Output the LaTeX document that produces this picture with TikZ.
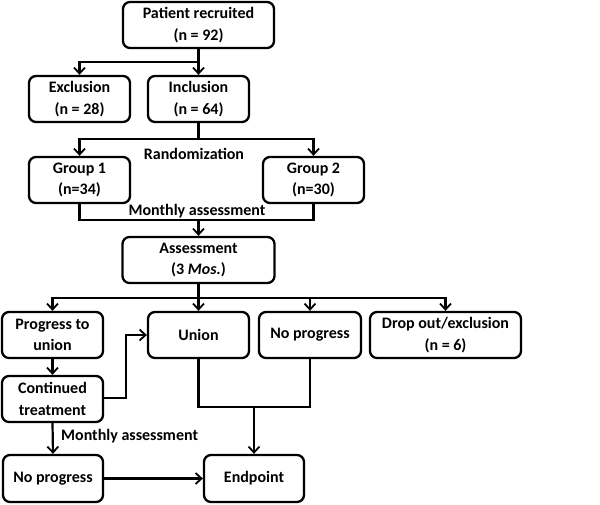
\documentclass[tikz,border=0pt]{standalone}
\usepackage{fontspec}
\setmainfont{Carlito}
\usetikzlibrary{arrows.meta}
\begin{document}
\begin{tikzpicture}[x=1pt,y=-1pt,
  box/.style={draw,line width=2.3pt,rounded corners=7pt,minimum height=46pt,align=center,inner sep=1pt,font=\fontsize{16}{21.5}\selectfont\bfseries},
  lbl/.style={font=\fontsize{16}{21.5}\selectfont\bfseries,inner sep=0pt},
  conn/.style={line width=2.2pt},
  arr/.style={conn,-{Straight Barb[length=6pt,width=11pt,line width=1.8pt]}}]
\useasboundingbox (0,0) rectangle (600,504);
\node[box,minimum width=151pt] (pat) at (198.5,25) {Patient recruited\\(n = 92)};
\node[box,minimum width=101pt] (exc) at (79.5,99) {Exclusion\\(n = 28)};
\node[box,minimum width=101pt] (inc) at (198.5,99) {Inclusion\\(n = 64)};
\node[box,minimum width=101pt] (g1) at (79.5,180) {Group 1\\(n=34)};
\node[box,minimum width=101pt] (g2) at (313.5,180) {Group 2\\(n=30)};
\node[box,minimum width=152pt] (ass) at (198.5,260) {Assessment\\(3 \textit{Mos.})};
\node[box,minimum width=101pt] (prog) at (52.5,335) {Progress to\\union};
\node[box,minimum width=101pt] (uni) at (198.5,335) {Union};
\node[box,minimum width=102pt] (np1) at (310,335) {No progress};
\node[box,minimum width=151pt] (drop) at (445.5,335) {Drop out/exclusion\\(n = 6)};
\node[box,minimum width=101pt] (cont) at (52.5,399) {Continued\\treatment};
\node[box,minimum width=100pt,minimum height=47pt] (np2) at (53,478.5) {No progress};
\node[box,minimum width=100pt,minimum height=47pt] (end) at (254,478.5) {Endpoint};
% labels
\node[lbl] (rand) at (194,154) {Randomization};
\node[lbl] (ma1) at (197,211) {Monthly assessment};
\node[lbl,anchor=west] (ma2) at (61,436) {Monthly assessment};
% coordinates
\coordinate (b1) at (198.5,62);
\coordinate (b2) at (198.5,139);
\coordinate (b3) at (198.5,220);
\coordinate (b4) at (198.5,298);
\coordinate (b5) at (126,398);
\coordinate (b6) at (254,407);
% connectors
\draw[arr] (pat.south) -- (inc.north);
\draw[arr] (b1) -| (exc.north);
\draw[conn] (inc.south) -- (b2);
\draw[arr] (b2) -| (g1.north);
\draw[arr] (b2) -| (g2.north);
\draw[conn] (g1.south) |- (b3);
\draw[conn] (g2.south) |- (b3);
\draw[arr] (b3) -- (ass.north);
\draw[arr] (ass.south) -- (uni.north);
\draw[arr] (b4) -| (prog.north);
\draw[arr] (b4) -| (np1.north);
\draw[arr] (b4) -| (drop.north);
\draw[arr] (prog.south) -- (cont.north);
\draw[arr] (cont.east |- b5) -- (b5) |- (uni.west);
\draw[conn] (uni.south) |- (b6);
\draw[conn] (np1.south) |- (b6);
\draw[arr] (b6) -- (end.north);
\draw[arr] (cont.south) -- (np2.north);
\draw[arr] (np2.east) -- (end.west);
\end{tikzpicture}
\end{document}
